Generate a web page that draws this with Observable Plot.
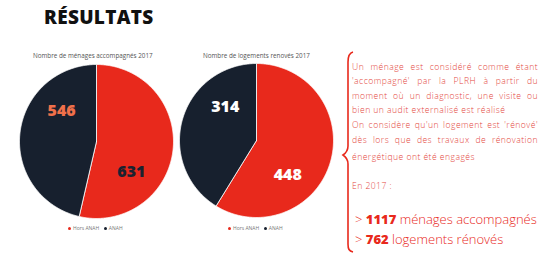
<!DOCTYPE html>
<html><head><meta charset="utf-8">
<script src="https://cdn.jsdelivr.net/npm/d3@7"></script>
<script src="https://cdn.jsdelivr.net/npm/@observablehq/plot@0.6"></script>
<style>
html,body{margin:0;padding:0;width:541px;height:270px;overflow:hidden;background:#fff;font-family:"Open Sans",sans-serif;}
#page{position:relative;width:541px;height:270px;overflow:hidden;}
.abs{position:absolute;white-space:nowrap;}
.title{font-size:19px;font-weight:800;color:#111;letter-spacing:0.3px;}
.ptitle{font-size:6.3px;color:#555;}
.leg{font-size:5px;color:#777;display:flex;align-items:center;gap:2px;}
.dot{width:3px;height:3px;border-radius:50%;display:inline-block;}
.txt{font-size:8.6px;color:#e4473d;font-weight:300;letter-spacing:0.45px;}
.just{width:186px;text-align:justify;text-align-last:justify;}
.big{font-size:13px;color:#e8291c;font-weight:300;}
.big b{font-weight:800;}
</style></head>
<body><div id="page"></div>
<script>
const categories = ["Hors ANAH", "ANAH"];
const colors = ["#e8291c", "#17202e"];
const pieTitles = ["Nombre de ménages accompagnés 2017", "Nombre de logements renovés 2017"];
const menagesValues = [631, 546];
const logementsValues = [448, 314];
const labelColors = [["#1b2230", "#f0704a"], ["#ffffff", "#ffffff"]];
const textLines = [
  "Un ménage est considéré comme étant",
  "'accompagné' par la PLRH à partir du",
  "moment où un diagnostic, une visite ou",
  "bien un audit externalisé est réalisé",
  "On considère qu'un logement est 'rénové'",
  "dès lors que des travaux de rénovation",
  "énergétique ont été engagés",
  "En 2017 :"
];
const totals = ["1117", "762"];
const totalLabels = ["ménages accompagnés", "logements rénovés"];

const page = document.getElementById("page");
function add(html, cls, left, top, extra) {
  const d = document.createElement("div");
  d.className = "abs " + cls;
  d.style.left = left + "px"; d.style.top = top + "px";
  if (extra) Object.assign(d.style, extra);
  d.innerHTML = html;
  page.appendChild(d);
  return d;
}

add("RÉSULTATS", "title", 44, 4);

function pie(values, labCols, left, top, size, rot) {
  const arcs = d3.pie().sort(null).value(d => d)(values);
  const pts = [];
  const labs = [];
  arcs.forEach((a, i) => {
    pts.push({slice: categories[i], x: 0, y: 0});
    const n = Math.max(2, Math.ceil((a.endAngle - a.startAngle) / 0.01));
    for (let k = 0; k <= n; k++) {
      const t = a.startAngle + (a.endAngle - a.startAngle) * k / n;
      pts.push({slice: categories[i], x: Math.sin(t), y: Math.cos(t)});
    }
    pts.push({slice: categories[i], x: 0, y: 0});
    const mid = (a.startAngle + a.endAngle) / 2 + rot;
    labs.push({x: 0.6 * Math.sin(mid), y: 0.6 * Math.cos(mid), text: String(values[i]), color: labCols[i]});
  });
  const svg = Plot.plot({
    width: size, height: size, margin: 0,
    x: {domain: [-1, 1], axis: null},
    y: {domain: [-1, 1], axis: null},
    color: {domain: categories, range: colors},
    marks: [
      Plot.line(pts, {x: "x", y: "y", z: "slice", fill: "slice", stroke: "#ffffff", strokeWidth: 0.8, curve: "linear"}),
      Plot.text(labs, {x: "x", y: "y", text: "text", fill: d => d.color, fontSize: 16, fontWeight: 800, fontFamily: "Open Sans"})
    ]
  });
  svg.style.position = "absolute";
  svg.style.left = left + "px"; svg.style.top = top + "px";
  svg.style.overflow = "visible";
  page.appendChild(svg);
}

add(pieTitles[0], "ptitle", 33, 51);
add(pieTitles[1], "ptitle", 203, 51);
pie(menagesValues, labelColors[0], 19, 64, 154, 0.6);
pie(logementsValues, labelColors[1], 179, 63, 154, 0.55);

function legend(left, top) {
  add(`<span class="dot" style="background:${colors[0]}"></span>${categories[0]}&nbsp;&nbsp;<span class="dot" style="background:${colors[1]}"></span>${categories[1]}`, "leg", left, top);
}
legend(68, 225);
legend(228, 225);

// brace
const ns = "http://www.w3.org/2000/svg";
const b = document.createElementNS(ns, "svg");
b.setAttribute("width", 20); b.setAttribute("height", 210);
b.style.position = "absolute"; b.style.left = "340px"; b.style.top = "48px";
const p = document.createElementNS(ns, "path");
p.setAttribute("d", "M13,4 C9,5 8,9 8,14 L8,98 C8,103 6,105 3,107 C6,109 8,111 8,116 L8,196 C8,201 9,203 13,204");
p.setAttribute("fill", "none"); p.setAttribute("stroke", "#e8291c"); p.setAttribute("stroke-width", "1.6");
b.appendChild(p); page.appendChild(b);

const tops = [61, 75, 90, 104, 119, 134, 151, 180];
const justified = [true, true, true, false, true, true, false, false];
textLines.forEach((t, i) => add(t, "txt" + (justified[i] ? " just" : ""), 352, tops[i], justified[i] ? {whiteSpace: "normal"} : null));
add(`&gt; <b>${totals[0]}</b> ${totalLabels[0]}`, "big", 355, 210);
add(`&gt; <b>${totals[1]}</b> ${totalLabels[1]}`, "big", 355, 230);
</script></body></html>
